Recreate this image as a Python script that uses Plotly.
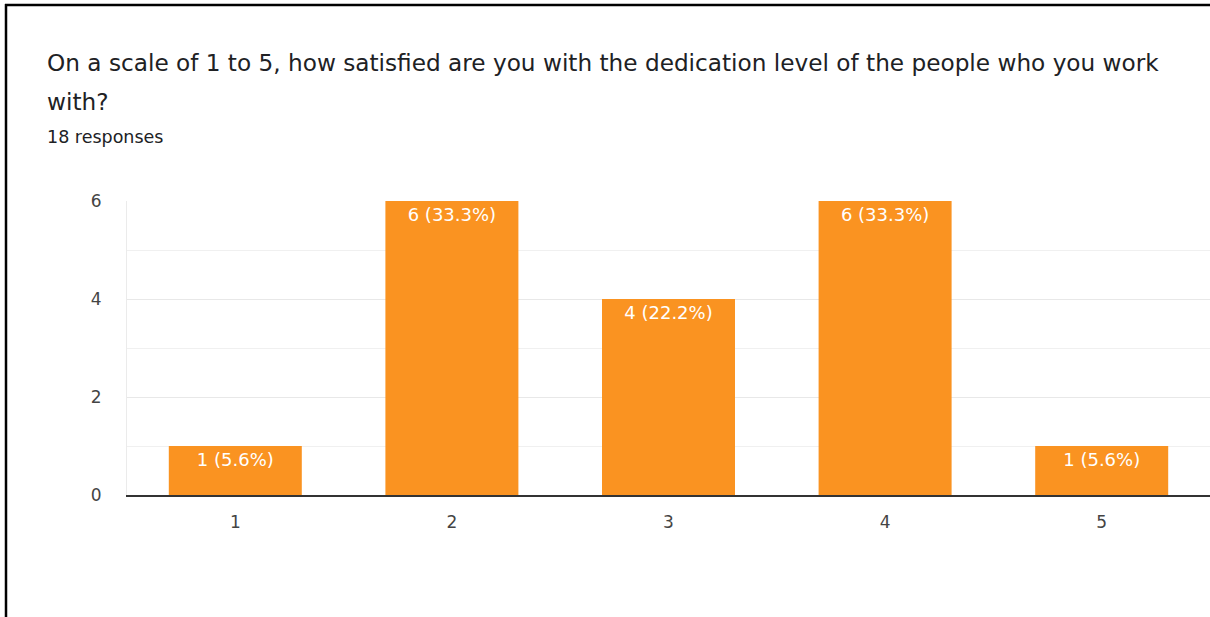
import plotly.graph_objects as go

# Survey answers: rating on a 1-5 scale and how many people chose each
ratings = ["1", "2", "3", "4", "5"]
counts = [1, 6, 4, 6, 1]
percents = [5.6, 33.3, 22.2, 33.3, 5.6]

question = "On a scale of 1 to 5, how satisfied are you with the dedication level of the people who you work"
question_tail = "with?"
responses_note = "18 responses"

labels = [f"{c} ({p}%)" for c, p in zip(counts, percents)]

W, H = 1210, 617
L, R, T, B = 127, 0, 201, 122
pw, ph = W - L - R, H - T - B

FONT = "DejaVu Sans, Arial, sans-serif"


def px(x):
    return (x - L) / pw


def py(y):
    return (H - B - y) / ph


fig = go.Figure(
    go.Bar(
        x=ratings,
        y=counts,
        text=labels,
        textposition="inside",
        insidetextanchor="end",
        textangle=0,
        constraintext="none",
        textfont=dict(color="white", size=18, family=FONT),
        marker=dict(color="#fa9321", line=dict(width=0)),
        hoverinfo="skip",
    )
)

fig.update_layout(
    width=W,
    height=H,
    margin=dict(l=L, r=R, t=T, b=B, pad=0),
    paper_bgcolor="white",
    plot_bgcolor="white",
    bargap=0.386,
    showlegend=False,
    font=dict(family=FONT, color="#444444"),
)

fig.update_xaxes(
    type="category",
    showgrid=False,
    showline=True,
    linecolor="#333333",
    linewidth=1.5,
    ticks="",
    ticklabelstandoff=11,
    tickfont=dict(size=17, color="#444444"),
)

fig.update_yaxes(
    range=[0, 6],
    dtick=2,
    showgrid=True,
    gridcolor="#e8e8e8",
    gridwidth=1,
    minor=dict(dtick=1, showgrid=True, gridcolor="#f0f0f0", gridwidth=1),
    zeroline=False,
    showline=True,
    linecolor="#ebebeb",
    linewidth=1,
    ticks="",
    ticklabelstandoff=21,
    tickfont=dict(size=17, color="#444444"),
)

title_font = dict(family=FONT, size=23.2, color="#202124")
fig.add_annotation(text=question, x=px(45), y=py(63), xref="paper", yref="paper",
                   xanchor="left", yanchor="middle", showarrow=False, font=title_font)
fig.add_annotation(text=question_tail, x=px(45), y=py(102), xref="paper", yref="paper",
                   xanchor="left", yanchor="middle", showarrow=False, font=title_font)
fig.add_annotation(text=responses_note, x=px(45), y=py(137), xref="paper", yref="paper",
                   xanchor="left", yanchor="middle", showarrow=False,
                   font=dict(family=FONT, size=17.5, color="#202124"))

# Frame lines along the left and top edges
fig.add_shape(type="line", xref="paper", yref="paper",
              x0=px(6), x1=px(6), y0=py(H + 2), y1=py(4),
              line=dict(color="black", width=2.5))
fig.add_shape(type="line", xref="paper", yref="paper",
              x0=px(5), x1=px(W + 2), y0=py(5), y1=py(5),
              line=dict(color="black", width=2.5))

fig.write_html("out.html")
